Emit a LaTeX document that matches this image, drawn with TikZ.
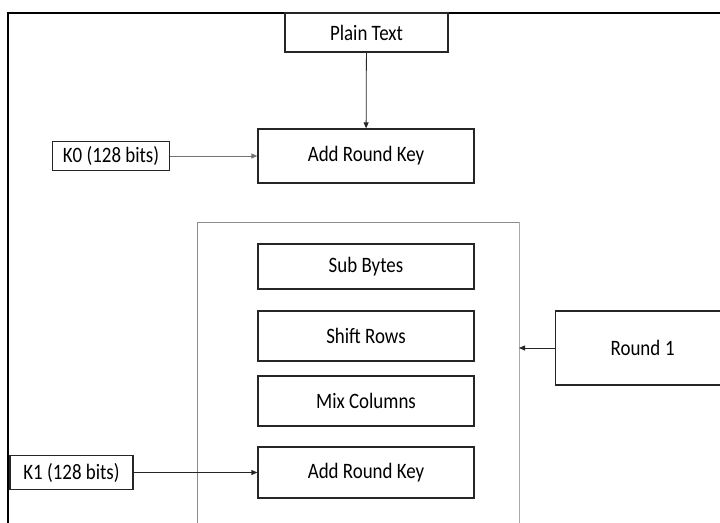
\documentclass[tikz,border=0pt]{standalone}
\usepackage{fontspec}
\setmainfont{Carlito}[FakeStretch=0.86]
\usetikzlibrary{arrows.meta}
\begin{document}
\begin{tikzpicture}[x=1pt,y=-1pt,
  blk/.style={draw=black!85, line width=1.3pt, fill=white, inner sep=0pt,
    font=\fontsize{22}{24}\selectfont},
  arr/.style={draw=black!85, line width=0.8pt, -{Triangle[length=6pt,width=5pt]}},
  frameline/.style={line width=2.5pt, draw=black},
  grp/.style={line width=0.9pt}]
\useasboundingbox (0,0) rectangle (720,522);
\clip (0,0) rectangle (720,522);

% outer frame
\draw[frameline] (8,13) rectangle (740,545);

% round container (open at the bottom)
\coordinate (ctl) at (197,222);
\coordinate (ctr) at (519,222);
\coordinate (cbl) at (197,540);
\coordinate (cbr) at (519,540);
\coordinate (cin) at (519,348);
\draw[grp, draw=black!45] (cbl) -- (ctl) -- (ctr);
\draw[grp, draw=blue!30!gray!55] (ctr) -- (cbr);

% blocks
\node[blk, minimum width=163pt, minimum height=39pt] (pt) at (366.5,32.5) {Plain Text};
\node[blk, minimum width=216pt, minimum height=54pt] (ark0) at (366,156) {Add Round Key};
\node[blk, minimum width=117pt, minimum height=29pt] (k0) at (111,156) {K0 (128 bits)};

\node[blk, minimum width=216pt, minimum height=45pt] (sb) at (366,266.5) {Sub Bytes};
\node[blk, minimum width=216pt, minimum height=50pt] (sr) at (366,336) {Shift Rows};
\node[blk, minimum width=216pt, minimum height=50pt] (mc) at (366,401) {Mix Columns};
\node[blk, minimum width=216pt, minimum height=51pt] (ark1) at (366,472.5) {Add Round Key};
\node[blk, minimum width=123pt, minimum height=34pt] (k1) at (71.5,472.5) {K1 (128 bits)};

\node[blk, anchor=west, minimum height=74pt, text width=110pt, align=left,
      inner xsep=55pt] (r1) at (555,348) {Round\kern-2.5pt\ 1};

% connectors
\draw[arr] (pt) -- (ark0);
\draw[arr, draw=black!55] (k0) -- (ark0);
\draw[arr] (k1) -- (ark1);
\draw[arr] (r1.west) -- (cin);
\end{tikzpicture}
\end{document}
